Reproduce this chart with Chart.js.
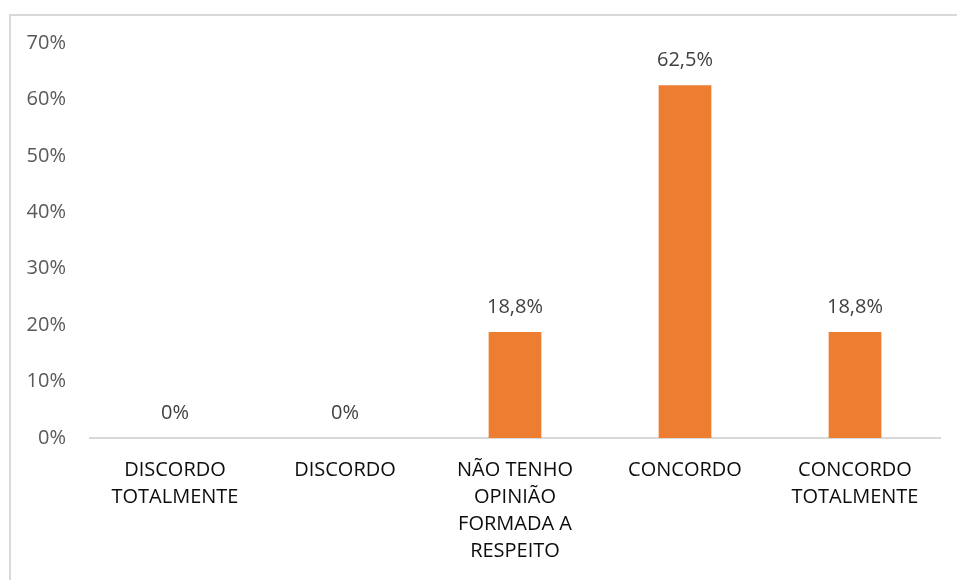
<!DOCTYPE html>
<html>
<head>
<meta charset="utf-8">
<script src="https://cdn.jsdelivr.net/npm/chart.js@4/dist/chart.umd.min.js"></script>
<style>
	body { margin: 0; background: #fff; }
	.khung { position: absolute; left: 9px; top: 14px; width: 960px; height: 580px; border-top: 2px solid #d9d9d9; border-left: 2px solid #d9d9d9; }
	.hop { position: absolute; left: 0; top: 0; width: 957px; height: 580px; }
</style>
</head>
<body>
<div class="khung"></div>
<div class="hop"><canvas id="bieuDo"></canvas></div>
<script>
var categories = [
	['DISCORDO', 'TOTALMENTE'],
	'DISCORDO',
	['NÃO TENHO', 'OPINIÃO', 'FORMADA A', 'RESPEITO'],
	'CONCORDO',
	['CONCORDO', 'TOTALMENTE']
];
var values = [0, 0, 0.188, 0.625, 0.188];
var yTicks = [0, 0.1, 0.2, 0.3, 0.4, 0.5, 0.6, 0.7];

var font = 'Open Sans';

function dinhDangPhanTram(v) {
	var p = Math.round(v * 1000) / 10;
	if (p % 1 == 0) {
		return p.toFixed(0) + '%';
	}
	return p.toFixed(1).replace('.', ',') + '%';
}

var nhanGiaTri = {
	id: 'nhanGiaTri',
	afterDatasetsDraw(chart) {
		var ctx = chart.ctx;
		var meta = chart.getDatasetMeta(0);
		ctx.save();
		ctx.font = '20px "' + font + '"';
		ctx.fillStyle = '#404040';
		ctx.textAlign = 'center';
		ctx.textBaseline = 'middle';
		meta.data.forEach((bar, i) => {
			ctx.fillText(dinhDangPhanTram(values[i]), bar.x, bar.y - 25);
		});
		ctx.restore();
	}
};

var canvas = document.getElementById('bieuDo');
new Chart(canvas.getContext('2d'), {
	type: 'bar',
	data: {
		labels: categories,
		datasets: [
			{
				data: values,
				backgroundColor: '#ed7d31',
				barPercentage: 0.31,
				categoryPercentage: 1
			}
		]
	},
	options: {
		responsive: true,
		maintainAspectRatio: false,
		animation: false,
		layout: { padding: { left: 10, right: 17, top: 43, bottom: 0 } },
		plugins: {
			legend: { display: false },
			tooltip: { enabled: false }
		},
		scales: {
			x: {
				grid: { display: false, drawTicks: false },
				border: { display: true, color: '#d9d9d9', width: 2 },
				ticks: {
					color: '#0d0d0d',
					font: { family: font, size: 20, lineHeight: 1.35 },
					padding: 19,
					maxRotation: 0,
					autoSkip: false
				},
				afterFit: (scale) => { scale.height = 142; }
			},
			y: {
				min: 0,
				max: 0.7,
				afterBuildTicks: (scale) => { scale.ticks = yTicks.map(v => ({ value: v })); },
				grid: { display: false, drawTicks: false },
				border: { display: false },
				ticks: {
					color: '#595959',
					font: { family: font, size: 20 },
					padding: 24,
					callback: (v) => Math.round(v * 100) + '%'
				},
				afterFit: (scale) => { scale.width = 80; }
			}
		}
	},
	plugins: [nhanGiaTri]
});
</script>
</body>
</html>
